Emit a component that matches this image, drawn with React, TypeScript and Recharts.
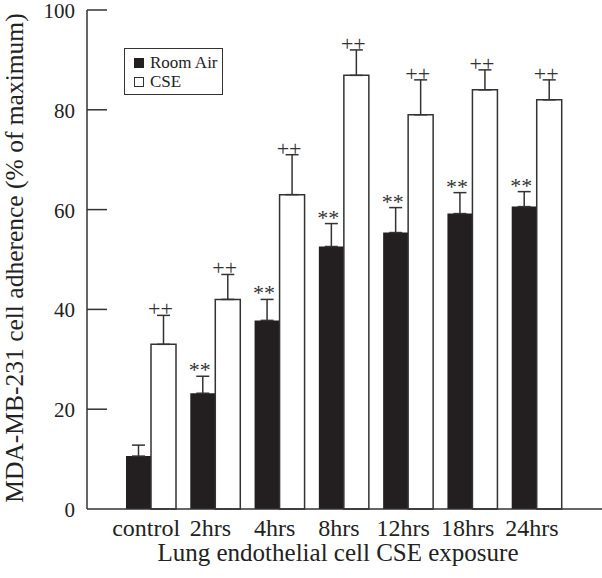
import React from 'react';
import { BarChart, Bar, XAxis, YAxis, ErrorBar, LabelList } from 'recharts';

const categories = ['control', '2hrs', '4hrs', '8hrs', '12hrs', '18hrs', '24hrs'];
const roomAir = [10.6, 23.2, 37.8, 52.6, 55.4, 59.2, 60.6];
const roomAirErr = [2.2, 3.4, 4.2, 4.6, 5.0, 4.2, 3.0];
const cse = [33, 42, 63, 86.9, 79, 84, 82];
const cseErr = [5.8, 5, 8, 5.1, 7, 4, 4];
const roomAirMarks = ['', '**', '**', '**', '**', '**', '**'];
const cseMarks = ['++', '++', '++', '++', '++', '++', '++'];
const yTicks = [0, 20, 40, 60, 80, 100];

const data = categories.map((c, i) => ({
  name: c,
  roomAir: roomAir[i],
  roomAirErr: [0, roomAirErr[i]],
  cse: cse[i],
  cseErr: [0, cseErr[i]],
}));

const FONT = '"Liberation Serif", "Times New Roman", serif';
const INK = '#333';

// text above the error bar cap; pixel scale taken from the bar itself
const markContent = (marks: string[], errs: number[]) => (props: any) => {
  const vb = props.viewBox || props;
  const { x, y, width, height } = vb;
  const i = props.index;
  const v = props.value;
  if (!marks[i] || !v) return null;
  const ppu = height / v;
  const capY = y - errs[i] * ppu;
  return (
    <text x={x + width / 2 - 3} y={capY + 1} textAnchor="middle" fontSize={22} fontFamily={FONT} fill={INK}>
      {marks[i]}
    </text>
  );
};

const YTick = ({ x, y, payload }: any) => (
  <g>
    {payload.value !== 0 && <line x1={x} x2={x + 20} y1={y} y2={y} stroke={INK} strokeWidth={1.5} />}
    <text x={x - 12} y={y + 8} textAnchor="end" fontSize={21} fontFamily={FONT} fill="#222">
      {payload.value}
    </text>
  </g>
);

const XTick = ({ x, y, payload }: any) => (
  <text x={x - 5} y={y + 27} textAnchor="middle" fontSize={24} fontFamily={FONT} fill="#222">
    {payload.value}
  </text>
);

const LegendBox = () => (
  <div
    style={{
      position: 'absolute',
      left: 124,
      top: 48,
      width: 99,
      height: 47,
      border: `1.5px solid ${INK}`,
      boxSizing: 'border-box',
      fontFamily: FONT,
      fontSize: 17,
      color: '#222',
      padding: '4px 0 0 9px',
      lineHeight: '19px',
      background: '#fff',
    }}
  >
    <div style={{ display: 'flex', alignItems: 'center' }}>
      <span style={{ width: 10, height: 10, background: '#231f20', marginRight: 6, display: 'inline-block' }} />
      Room Air
    </div>
    <div style={{ display: 'flex', alignItems: 'center' }}>
      <span style={{ width: 8, height: 8, border: `1.2px solid ${INK}`, marginRight: 6, display: 'inline-block' }} />
      CSE
    </div>
  </div>
);

export default function App() {
  return (
    <div style={{ position: 'absolute', left: 0, top: 0, width: 602, height: 578, background: '#fff' }}>
      <BarChart width={602} height={578} data={data} margin={{ top: 10, right: 0, left: 0, bottom: 0 }} barGap={0} barSize={25}>
        <XAxis
          dataKey="name"
          height={69}
          padding={{ left: 32, right: 33 }}
          tickLine={false}
          tickSize={0}
          tickMargin={0}
          tick={<XTick />}
          axisLine={{ stroke: INK, strokeWidth: 1.5 }}
          interval={0}
          label={() => (
            <text x={338} y={561} textAnchor="middle" fontSize={25} fontFamily={FONT} fill="#222">
              Lung endothelial cell CSE exposure
            </text>
          )}
        />
        <YAxis
          width={87}
          domain={[0, 100]}
          ticks={yTicks}
          tickLine={false}
          tickSize={0}
          tickMargin={0}
          tick={<YTick />}
          axisLine={{ stroke: INK, strokeWidth: 1.5 }}
          label={() => (
            <text x={23} y={258} transform="rotate(-90 23 258)" textAnchor="middle" fontSize={25.5} fontFamily={FONT} fill="#222">
              MDA-MB-231 cell adherence (% of maximum)
            </text>
          )}
        />
        <Bar dataKey="roomAir" name="Room Air" fill="#231f20" isAnimationActive={false}>
          <ErrorBar dataKey="roomAirErr" width={6.5} stroke={INK} strokeWidth={1.5} direction="y" />
          <LabelList dataKey="roomAir" content={markContent(roomAirMarks, roomAirErr)} />
        </Bar>
        <Bar dataKey="cse" name="CSE" fill="#fff" stroke={INK} strokeWidth={1.5} isAnimationActive={false}>
          <ErrorBar dataKey="cseErr" width={6.5} stroke={INK} strokeWidth={1.5} direction="y" />
          <LabelList dataKey="cse" content={markContent(cseMarks, cseErr)} />
        </Bar>
      </BarChart>
      <LegendBox />
    </div>
  );
}
